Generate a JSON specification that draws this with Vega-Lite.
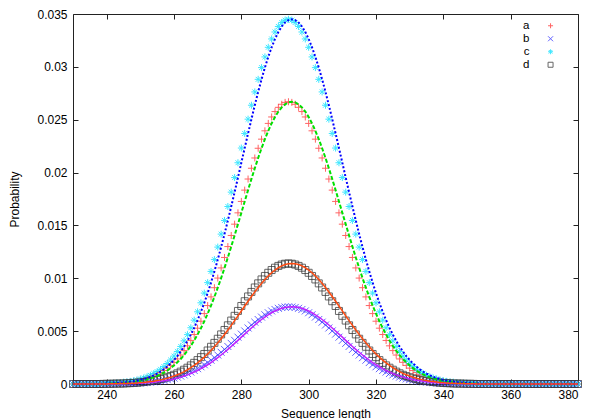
{
"$schema": "https://vega.github.io/schema/vega-lite/v6.json",
"width": 505, "height": 370,
"autosize": "none",
"padding": {"left": 73, "top": 14, "right": 20, "bottom": 35},
"config": {
  "font": "Liberation Sans",
  "view": {"stroke": null},
  "axis": {"domainColor": "#222", "tickColor": "#222", "tickSize": -5, "grid": false, "labelFont": "Liberation Sans", "labelFontSize": 12, "labelColor": "#000", "titleFont": "Liberation Sans", "titleFontSize": 12, "titleFontWeight": "normal", "titleColor": "#000"}
},
"datasets": {
"pts": [
{"x":230,"a":0,"b":0,"c":0,"d":0},{"x":231,"a":0,"b":0,"c":0,"d":0},{"x":232,"a":0,"b":0,"c":0,"d":0},{"x":233,"a":0,"b":0,"c":0,"d":0},{"x":234,"a":0,"b":0,"c":0,"d":0},{"x":235,"a":0,"b":0,"c":0,"d":0},{"x":236,"a":0,"b":0,"c":0,"d":0},{"x":237,"a":0,"b":0,"c":0,"d":0},{"x":238,"a":0,"b":0,"c":0,"d":0},
{"x":239,"a":0.00003,"b":0.00001,"c":0.00004,"d":0.00001},
{"x":240,"a":0.00004,"b":0.00001,"c":0.00005,"d":0.00002},
{"x":241,"a":0.00005,"b":0.00001,"c":0.00007,"d":0.00002},
{"x":242,"a":0.00007,"b":0.00002,"c":0.00009,"d":0.00003},
{"x":243,"a":0.00008,"b":0.00002,"c":0.00011,"d":0.00004},
{"x":244,"a":0.0001,"b":0.00003,"c":0.00013,"d":0.00004},
{"x":245,"a":0.00013,"b":0.00004,"c":0.00017,"d":0.00005},
{"x":246,"a":0.00016,"b":0.00004,"c":0.00021,"d":0.00007},
{"x":247,"a":0.0002,"b":0.00005,"c":0.00025,"d":0.00008},
{"x":248,"a":0.00024,"b":0.00007,"c":0.00031,"d":0.0001},
{"x":249,"a":0.0003,"b":0.00008,"c":0.00038,"d":0.00013},
{"x":250,"a":0.00036,"b":0.0001,"c":0.00047,"d":0.00015},
{"x":251,"a":0.00044,"b":0.00012,"c":0.00057,"d":0.00019},
{"x":252,"a":0.00053,"b":0.00014,"c":0.00068,"d":0.00023},
{"x":253,"a":0.00064,"b":0.00017,"c":0.00082,"d":0.00027},
{"x":254,"a":0.00076,"b":0.00021,"c":0.00099,"d":0.00033},
{"x":255,"a":0.00091,"b":0.00025,"c":0.00117,"d":0.00039},
{"x":256,"a":0.00108,"b":0.0003,"c":0.00139,"d":0.00046},
{"x":257,"a":0.00127,"b":0.00035,"c":0.00165,"d":0.00054},
{"x":258,"a":0.0015,"b":0.00041,"c":0.00194,"d":0.00064},
{"x":259,"a":0.00176,"b":0.00048,"c":0.00227,"d":0.00075},
{"x":260,"a":0.00205,"b":0.00056,"c":0.00264,"d":0.00087},
{"x":261,"a":0.00237,"b":0.00065,"c":0.00307,"d":0.00101},
{"x":262,"a":0.00274,"b":0.00075,"c":0.00355,"d":0.00117},
{"x":263,"a":0.00316,"b":0.00086,"c":0.00408,"d":0.00135},
{"x":264,"a":0.00361,"b":0.00099,"c":0.00467,"d":0.00154},
{"x":265,"a":0.00412,"b":0.00113,"c":0.00532,"d":0.00176},
{"x":266,"a":0.00468,"b":0.00128,"c":0.00604,"d":0.002},
{"x":267,"a":0.00528,"b":0.00145,"c":0.00683,"d":0.00226},
{"x":268,"a":0.00594,"b":0.00163,"c":0.00768,"d":0.00254},
{"x":269,"a":0.00666,"b":0.00182,"c":0.0086,"d":0.00284},
{"x":270,"a":0.00742,"b":0.00203,"c":0.00959,"d":0.00317},
{"x":271,"a":0.00824,"b":0.00225,"c":0.01065,"d":0.00352},
{"x":272,"a":0.00911,"b":0.00249,"c":0.01177,"d":0.00389},
{"x":273,"a":0.01002,"b":0.00274,"c":0.01295,"d":0.00428},
{"x":274,"a":0.01098,"b":0.003,"c":0.01418,"d":0.00469},
{"x":275,"a":0.01197,"b":0.00327,"c":0.01547,"d":0.00511},
{"x":276,"a":0.013,"b":0.00355,"c":0.01679,"d":0.00555},
{"x":277,"a":0.01405,"b":0.00384,"c":0.01815,"d":0.006},
{"x":278,"a":0.01512,"b":0.00413,"c":0.01953,"d":0.00645},
{"x":279,"a":0.01619,"b":0.00443,"c":0.02093,"d":0.00691},
{"x":280,"a":0.01727,"b":0.00472,"c":0.02232,"d":0.00738},
{"x":281,"a":0.01834,"b":0.00502,"c":0.0237,"d":0.00783},
{"x":282,"a":0.01939,"b":0.0053,"c":0.02505,"d":0.00828},
{"x":283,"a":0.02041,"b":0.00558,"c":0.02637,"d":0.00871},
{"x":284,"a":0.02138,"b":0.00585,"c":0.02763,"d":0.00913},
{"x":285,"a":0.0223,"b":0.0061,"c":0.02882,"d":0.00952},
{"x":286,"a":0.02316,"b":0.00633,"c":0.02993,"d":0.00989},
{"x":287,"a":0.02395,"b":0.00655,"c":0.03094,"d":0.01022},
{"x":288,"a":0.02465,"b":0.00674,"c":0.03185,"d":0.01052},
{"x":289,"a":0.02526,"b":0.00691,"c":0.03264,"d":0.01078},
{"x":290,"a":0.02577,"b":0.00705,"c":0.0333,"d":0.011},
{"x":291,"a":0.02617,"b":0.00716,"c":0.03382,"d":0.01117},
{"x":292,"a":0.02646,"b":0.00724,"c":0.0342,"d":0.0113},
{"x":293,"a":0.02664,"b":0.00728,"c":0.03442,"d":0.01138},
{"x":294,"a":0.0267,"b":0.0073,"c":0.0345,"d":0.0114},
{"x":295,"a":0.02664,"b":0.00728,"c":0.03442,"d":0.01138},
{"x":296,"a":0.02646,"b":0.00724,"c":0.0342,"d":0.0113},
{"x":297,"a":0.02617,"b":0.00716,"c":0.03382,"d":0.01117},
{"x":298,"a":0.02577,"b":0.00705,"c":0.0333,"d":0.011},
{"x":299,"a":0.02526,"b":0.00691,"c":0.03264,"d":0.01078},
{"x":300,"a":0.02465,"b":0.00674,"c":0.03185,"d":0.01052},
{"x":301,"a":0.02395,"b":0.00655,"c":0.03094,"d":0.01022},
{"x":302,"a":0.02316,"b":0.00633,"c":0.02993,"d":0.00989},
{"x":303,"a":0.0223,"b":0.0061,"c":0.02882,"d":0.00952},
{"x":304,"a":0.02138,"b":0.00585,"c":0.02763,"d":0.00913},
{"x":305,"a":0.02041,"b":0.00558,"c":0.02637,"d":0.00871},
{"x":306,"a":0.01939,"b":0.0053,"c":0.02505,"d":0.00828},
{"x":307,"a":0.01834,"b":0.00502,"c":0.0237,"d":0.00783},
{"x":308,"a":0.01727,"b":0.00472,"c":0.02232,"d":0.00738},
{"x":309,"a":0.01619,"b":0.00443,"c":0.02093,"d":0.00691},
{"x":310,"a":0.01512,"b":0.00413,"c":0.01953,"d":0.00645},
{"x":311,"a":0.01405,"b":0.00384,"c":0.01815,"d":0.006},
{"x":312,"a":0.013,"b":0.00355,"c":0.01679,"d":0.00555},
{"x":313,"a":0.01197,"b":0.00327,"c":0.01547,"d":0.00511},
{"x":314,"a":0.01098,"b":0.003,"c":0.01418,"d":0.00469},
{"x":315,"a":0.01002,"b":0.00274,"c":0.01295,"d":0.00428},
{"x":316,"a":0.00911,"b":0.00249,"c":0.01177,"d":0.00389},
{"x":317,"a":0.00824,"b":0.00225,"c":0.01065,"d":0.00352},
{"x":318,"a":0.00742,"b":0.00203,"c":0.00959,"d":0.00317},
{"x":319,"a":0.00666,"b":0.00182,"c":0.0086,"d":0.00284},
{"x":320,"a":0.00594,"b":0.00163,"c":0.00768,"d":0.00254},
{"x":321,"a":0.00528,"b":0.00145,"c":0.00683,"d":0.00226},
{"x":322,"a":0.00468,"b":0.00128,"c":0.00604,"d":0.002},
{"x":323,"a":0.00412,"b":0.00113,"c":0.00532,"d":0.00176},
{"x":324,"a":0.00361,"b":0.00099,"c":0.00467,"d":0.00154},
{"x":325,"a":0.00316,"b":0.00086,"c":0.00408,"d":0.00135},
{"x":326,"a":0.00274,"b":0.00075,"c":0.00355,"d":0.00117},
{"x":327,"a":0.00237,"b":0.00065,"c":0.00307,"d":0.00101},
{"x":328,"a":0.00205,"b":0.00056,"c":0.00264,"d":0.00087},
{"x":329,"a":0.00176,"b":0.00048,"c":0.00227,"d":0.00075},
{"x":330,"a":0.0015,"b":0.00041,"c":0.00194,"d":0.00064},
{"x":331,"a":0.00127,"b":0.00035,"c":0.00165,"d":0.00054},
{"x":332,"a":0.00108,"b":0.0003,"c":0.00139,"d":0.00046},
{"x":333,"a":0.00091,"b":0.00025,"c":0.00117,"d":0.00039},
{"x":334,"a":0.00076,"b":0.00021,"c":0.00099,"d":0.00033},
{"x":335,"a":0.00064,"b":0.00017,"c":0.00082,"d":0.00027},
{"x":336,"a":0.00053,"b":0.00014,"c":0.00068,"d":0.00023},
{"x":337,"a":0.00044,"b":0.00012,"c":0.00057,"d":0.00019},
{"x":338,"a":0.00036,"b":0.0001,"c":0.00047,"d":0.00015},
{"x":339,"a":0.0003,"b":0.00008,"c":0.00038,"d":0.00013},
{"x":340,"a":0.00024,"b":0.00007,"c":0.00031,"d":0.0001},
{"x":341,"a":0.0002,"b":0.00005,"c":0.00025,"d":0.00008},
{"x":342,"a":0.00016,"b":0.00004,"c":0.00021,"d":0.00007},
{"x":343,"a":0.00013,"b":0.00004,"c":0.00017,"d":0.00005},
{"x":344,"a":0.0001,"b":0.00003,"c":0.00013,"d":0.00004},
{"x":345,"a":0.00008,"b":0.00002,"c":0.00011,"d":0.00004},
{"x":346,"a":0.00007,"b":0.00002,"c":0.00009,"d":0.00003},
{"x":347,"a":0.00005,"b":0.00001,"c":0.00007,"d":0.00002},
{"x":348,"a":0.00004,"b":0.00001,"c":0.00005,"d":0.00002},
{"x":349,"a":0.00003,"b":0.00001,"c":0.00004,"d":0.00001},
{"x":350,"a":0,"b":0,"c":0,"d":0},{"x":351,"a":0,"b":0,"c":0,"d":0},{"x":352,"a":0,"b":0,"c":0,"d":0},{"x":353,"a":0,"b":0,"c":0,"d":0},{"x":354,"a":0,"b":0,"c":0,"d":0},{"x":355,"a":0,"b":0,"c":0,"d":0},{"x":356,"a":0,"b":0,"c":0,"d":0},{"x":357,"a":0,"b":0,"c":0,"d":0},{"x":358,"a":0,"b":0,"c":0,"d":0},{"x":359,"a":0,"b":0,"c":0,"d":0},{"x":360,"a":0,"b":0,"c":0,"d":0},{"x":361,"a":0,"b":0,"c":0,"d":0},{"x":362,"a":0,"b":0,"c":0,"d":0},{"x":363,"a":0,"b":0,"c":0,"d":0},{"x":364,"a":0,"b":0,"c":0,"d":0},{"x":365,"a":0,"b":0,"c":0,"d":0},{"x":366,"a":0,"b":0,"c":0,"d":0},{"x":367,"a":0,"b":0,"c":0,"d":0},{"x":368,"a":0,"b":0,"c":0,"d":0},{"x":369,"a":0,"b":0,"c":0,"d":0},{"x":370,"a":0,"b":0,"c":0,"d":0},{"x":371,"a":0,"b":0,"c":0,"d":0},{"x":372,"a":0,"b":0,"c":0,"d":0},{"x":373,"a":0,"b":0,"c":0,"d":0},{"x":374,"a":0,"b":0,"c":0,"d":0},{"x":375,"a":0,"b":0,"c":0,"d":0},{"x":376,"a":0,"b":0,"c":0,"d":0},{"x":377,"a":0,"b":0,"c":0,"d":0},{"x":378,"a":0,"b":0,"c":0,"d":0},{"x":379,"a":0,"b":0,"c":0,"d":0},{"x":380,"a":0,"b":0,"c":0,"d":0}
],
"fit": [
{"x":230,"a":0,"b":0,"c":0,"d":0},
{"x":239,"a":0,"b":0,"c":0,"d":0},
{"x":240,"a":0.00003,"b":0.00001,"c":0.00004,"d":0.00001},
{"x":241,"a":0.00004,"b":0.00001,"c":0.00005,"d":0.00002},
{"x":242,"a":0.00005,"b":0.00001,"c":0.00007,"d":0.00002},
{"x":243,"a":0.00007,"b":0.00002,"c":0.00009,"d":0.00003},
{"x":244,"a":0.00008,"b":0.00002,"c":0.00011,"d":0.00004},
{"x":245,"a":0.0001,"b":0.00003,"c":0.00013,"d":0.00004},
{"x":246,"a":0.00013,"b":0.00004,"c":0.00017,"d":0.00005},
{"x":247,"a":0.00016,"b":0.00004,"c":0.00021,"d":0.00007},
{"x":248,"a":0.0002,"b":0.00005,"c":0.00025,"d":0.00008},
{"x":249,"a":0.00024,"b":0.00007,"c":0.00031,"d":0.0001},
{"x":250,"a":0.0003,"b":0.00008,"c":0.00038,"d":0.00013},
{"x":251,"a":0.00036,"b":0.0001,"c":0.00047,"d":0.00015},
{"x":252,"a":0.00044,"b":0.00012,"c":0.00057,"d":0.00019},
{"x":253,"a":0.00053,"b":0.00014,"c":0.00068,"d":0.00023},
{"x":254,"a":0.00064,"b":0.00017,"c":0.00082,"d":0.00027},
{"x":255,"a":0.00076,"b":0.00021,"c":0.00099,"d":0.00033},
{"x":256,"a":0.00091,"b":0.00025,"c":0.00117,"d":0.00039},
{"x":257,"a":0.00108,"b":0.0003,"c":0.00139,"d":0.00046},
{"x":258,"a":0.00127,"b":0.00035,"c":0.00165,"d":0.00054},
{"x":259,"a":0.0015,"b":0.00041,"c":0.00194,"d":0.00064},
{"x":260,"a":0.00176,"b":0.00048,"c":0.00227,"d":0.00075},
{"x":261,"a":0.00205,"b":0.00056,"c":0.00264,"d":0.00087},
{"x":262,"a":0.00237,"b":0.00065,"c":0.00307,"d":0.00101},
{"x":263,"a":0.00274,"b":0.00075,"c":0.00355,"d":0.00117},
{"x":264,"a":0.00316,"b":0.00086,"c":0.00408,"d":0.00135},
{"x":265,"a":0.00361,"b":0.00099,"c":0.00467,"d":0.00154},
{"x":266,"a":0.00412,"b":0.00113,"c":0.00532,"d":0.00176},
{"x":267,"a":0.00468,"b":0.00128,"c":0.00604,"d":0.002},
{"x":268,"a":0.00528,"b":0.00145,"c":0.00683,"d":0.00226},
{"x":269,"a":0.00594,"b":0.00163,"c":0.00768,"d":0.00254},
{"x":270,"a":0.00666,"b":0.00182,"c":0.0086,"d":0.00284},
{"x":271,"a":0.00742,"b":0.00203,"c":0.00959,"d":0.00317},
{"x":272,"a":0.00824,"b":0.00225,"c":0.01065,"d":0.00352},
{"x":273,"a":0.00911,"b":0.00249,"c":0.01177,"d":0.00389},
{"x":274,"a":0.01002,"b":0.00274,"c":0.01295,"d":0.00428},
{"x":275,"a":0.01098,"b":0.003,"c":0.01418,"d":0.00469},
{"x":276,"a":0.01197,"b":0.00327,"c":0.01547,"d":0.00511},
{"x":277,"a":0.013,"b":0.00355,"c":0.01679,"d":0.00555},
{"x":278,"a":0.01405,"b":0.00384,"c":0.01815,"d":0.006},
{"x":279,"a":0.01512,"b":0.00413,"c":0.01953,"d":0.00645},
{"x":280,"a":0.01619,"b":0.00443,"c":0.02093,"d":0.00691},
{"x":281,"a":0.01727,"b":0.00472,"c":0.02232,"d":0.00738},
{"x":282,"a":0.01834,"b":0.00502,"c":0.0237,"d":0.00783},
{"x":283,"a":0.01939,"b":0.0053,"c":0.02505,"d":0.00828},
{"x":284,"a":0.02041,"b":0.00558,"c":0.02637,"d":0.00871},
{"x":285,"a":0.02138,"b":0.00585,"c":0.02763,"d":0.00913},
{"x":286,"a":0.0223,"b":0.0061,"c":0.02882,"d":0.00952},
{"x":287,"a":0.02316,"b":0.00633,"c":0.02993,"d":0.00989},
{"x":288,"a":0.02395,"b":0.00655,"c":0.03094,"d":0.01022},
{"x":289,"a":0.02465,"b":0.00674,"c":0.03185,"d":0.01052},
{"x":290,"a":0.02526,"b":0.00691,"c":0.03264,"d":0.01078},
{"x":291,"a":0.02577,"b":0.00705,"c":0.0333,"d":0.011},
{"x":292,"a":0.02617,"b":0.00716,"c":0.03382,"d":0.01117},
{"x":293,"a":0.02646,"b":0.00724,"c":0.0342,"d":0.0113},
{"x":294,"a":0.02664,"b":0.00728,"c":0.03442,"d":0.01138},
{"x":295,"a":0.0267,"b":0.0073,"c":0.0345,"d":0.0114},
{"x":296,"a":0.02664,"b":0.00728,"c":0.03442,"d":0.01138},
{"x":297,"a":0.02646,"b":0.00724,"c":0.0342,"d":0.0113},
{"x":298,"a":0.02617,"b":0.00716,"c":0.03382,"d":0.01117},
{"x":299,"a":0.02577,"b":0.00705,"c":0.0333,"d":0.011},
{"x":300,"a":0.02526,"b":0.00691,"c":0.03264,"d":0.01078},
{"x":301,"a":0.02465,"b":0.00674,"c":0.03185,"d":0.01052},
{"x":302,"a":0.02395,"b":0.00655,"c":0.03094,"d":0.01022},
{"x":303,"a":0.02316,"b":0.00633,"c":0.02993,"d":0.00989},
{"x":304,"a":0.0223,"b":0.0061,"c":0.02882,"d":0.00952},
{"x":305,"a":0.02138,"b":0.00585,"c":0.02763,"d":0.00913},
{"x":306,"a":0.02041,"b":0.00558,"c":0.02637,"d":0.00871},
{"x":307,"a":0.01939,"b":0.0053,"c":0.02505,"d":0.00828},
{"x":308,"a":0.01834,"b":0.00502,"c":0.0237,"d":0.00783},
{"x":309,"a":0.01727,"b":0.00472,"c":0.02232,"d":0.00738},
{"x":310,"a":0.01619,"b":0.00443,"c":0.02093,"d":0.00691},
{"x":311,"a":0.01512,"b":0.00413,"c":0.01953,"d":0.00645},
{"x":312,"a":0.01405,"b":0.00384,"c":0.01815,"d":0.006},
{"x":313,"a":0.013,"b":0.00355,"c":0.01679,"d":0.00555},
{"x":314,"a":0.01197,"b":0.00327,"c":0.01547,"d":0.00511},
{"x":315,"a":0.01098,"b":0.003,"c":0.01418,"d":0.00469},
{"x":316,"a":0.01002,"b":0.00274,"c":0.01295,"d":0.00428},
{"x":317,"a":0.00911,"b":0.00249,"c":0.01177,"d":0.00389},
{"x":318,"a":0.00824,"b":0.00225,"c":0.01065,"d":0.00352},
{"x":319,"a":0.00742,"b":0.00203,"c":0.00959,"d":0.00317},
{"x":320,"a":0.00666,"b":0.00182,"c":0.0086,"d":0.00284},
{"x":321,"a":0.00594,"b":0.00163,"c":0.00768,"d":0.00254},
{"x":322,"a":0.00528,"b":0.00145,"c":0.00683,"d":0.00226},
{"x":323,"a":0.00468,"b":0.00128,"c":0.00604,"d":0.002},
{"x":324,"a":0.00412,"b":0.00113,"c":0.00532,"d":0.00176},
{"x":325,"a":0.00361,"b":0.00099,"c":0.00467,"d":0.00154},
{"x":326,"a":0.00316,"b":0.00086,"c":0.00408,"d":0.00135},
{"x":327,"a":0.00274,"b":0.00075,"c":0.00355,"d":0.00117},
{"x":328,"a":0.00237,"b":0.00065,"c":0.00307,"d":0.00101},
{"x":329,"a":0.00205,"b":0.00056,"c":0.00264,"d":0.00087},
{"x":330,"a":0.00176,"b":0.00048,"c":0.00227,"d":0.00075},
{"x":331,"a":0.0015,"b":0.00041,"c":0.00194,"d":0.00064},
{"x":332,"a":0.00127,"b":0.00035,"c":0.00165,"d":0.00054},
{"x":333,"a":0.00108,"b":0.0003,"c":0.00139,"d":0.00046},
{"x":334,"a":0.00091,"b":0.00025,"c":0.00117,"d":0.00039},
{"x":335,"a":0.00076,"b":0.00021,"c":0.00099,"d":0.00033},
{"x":336,"a":0.00064,"b":0.00017,"c":0.00082,"d":0.00027},
{"x":337,"a":0.00053,"b":0.00014,"c":0.00068,"d":0.00023},
{"x":338,"a":0.00044,"b":0.00012,"c":0.00057,"d":0.00019},
{"x":339,"a":0.00036,"b":0.0001,"c":0.00047,"d":0.00015},
{"x":340,"a":0.0003,"b":0.00008,"c":0.00038,"d":0.00013},
{"x":341,"a":0.00024,"b":0.00007,"c":0.00031,"d":0.0001},
{"x":342,"a":0.0002,"b":0.00005,"c":0.00025,"d":0.00008},
{"x":343,"a":0.00016,"b":0.00004,"c":0.00021,"d":0.00007},
{"x":344,"a":0.00013,"b":0.00004,"c":0.00017,"d":0.00005},
{"x":345,"a":0.0001,"b":0.00003,"c":0.00013,"d":0.00004},
{"x":346,"a":0.00008,"b":0.00002,"c":0.00011,"d":0.00004},
{"x":347,"a":0.00007,"b":0.00002,"c":0.00009,"d":0.00003},
{"x":348,"a":0.00005,"b":0.00001,"c":0.00007,"d":0.00002},
{"x":349,"a":0.00004,"b":0.00001,"c":0.00005,"d":0.00002},
{"x":350,"a":0.00003,"b":0.00001,"c":0.00004,"d":0.00001},
{"x":351,"a":0,"b":0,"c":0,"d":0},
{"x":380,"a":0,"b":0,"c":0,"d":0}
]
},
"layer": [
{
  "data": {"name": "pts"},
  "transform": [{"fold": ["a", "b", "c", "d"], "as": ["series", "p"]}],
  "mark": {"type": "point", "filled": false, "strokeWidth": 1, "size": 49, "opacity": 0.75},
  "encoding": {
    "x": {"field": "x", "type": "quantitative", "scale": {"domain": [230, 380], "nice": false, "zero": false},
          "axis": {"orient": "bottom", "values": [240, 260, 280, 300, 320, 340, 360, 380], "labelPadding": 10, "title": "Sequence length", "titleX": 252.5, "titleY": 29, "titleAlign": "center", "titleBaseline": "middle"}},
    "y": {"field": "p", "type": "quantitative", "scale": {"domain": [0, 0.035], "nice": false},
          "axis": {"orient": "left", "values": [0, 0.005, 0.01, 0.015, 0.02, 0.025, 0.03, 0.035], "format": "~g", "labelPadding": 11, "title": "Probability", "titleX": -59, "titleY": 185, "titleAngle": 270, "titleAlign": "center", "titleBaseline": "middle"}},
    "color": {"field": "series", "type": "nominal", "scale": {"domain": ["a", "b", "c", "d"], "range": ["#ff3030", "#3030ff", "#00e0ff", "#333333"]},
              "legend": {"orient": "none", "legendX": 471.8, "legendY": 6, "title": null, "labelAlign": "right", "labelOffset": -26.8, "labelFontSize": 11.5, "labelFont": "Liberation Sans", "padding": 0, "rowPadding": 0, "symbolStrokeWidth": 1, "symbolSize": 25}},
    "shape": {"field": "series", "type": "nominal", "scale": {"domain": ["a", "b", "c", "d"], "range": ["M-1,0L1,0M0,-1L0,1", "M-1,-1L1,1M-1,1L1,-1", "M-1,0L1,0M0,-1L0,1M-0.7,-0.7L0.7,0.7M-0.7,0.7L0.7,-0.7", "square"]},
              "legend": {"orient": "none", "legendX": 471.8, "legendY": 6, "title": null, "labelAlign": "right", "labelOffset": -26.8, "labelFontSize": 11.5, "labelFont": "Liberation Sans", "padding": 0, "rowPadding": 0, "symbolStrokeWidth": 1, "symbolSize": 25}}
  }
},
{
  "data": {"name": "fit"},
  "mark": {"type": "line", "color": "#00e000", "strokeWidth": 2, "strokeDash": [4, 2]},
  "encoding": {
    "x": {"field": "x", "type": "quantitative", "scale": {"domain": [230, 380], "nice": false, "zero": false}, "axis": {"orient": "top", "values": [240, 260, 280, 300, 320, 340, 360, 380], "labels": false, "title": null}},
    "y": {"field": "a", "type": "quantitative", "scale": {"domain": [0, 0.035], "nice": false}, "axis": {"orient": "right", "values": [0, 0.005, 0.01, 0.015, 0.02, 0.025, 0.03, 0.035], "labels": false, "title": null}}
  }
},
{
  "data": {"name": "fit"},
  "mark": {"type": "line", "color": "#c020ff", "strokeWidth": 1.5},
  "encoding": {
    "x": {"field": "x", "type": "quantitative", "scale": {"domain": [230, 380], "nice": false, "zero": false}, "axis": null},
    "y": {"field": "b", "type": "quantitative", "scale": {"domain": [0, 0.035], "nice": false}, "axis": null}
  }
},
{
  "data": {"name": "fit"},
  "mark": {"type": "line", "color": "#0000ff", "strokeWidth": 2, "strokeDash": [2, 2]},
  "encoding": {
    "x": {"field": "x", "type": "quantitative", "scale": {"domain": [230, 380], "nice": false, "zero": false}, "axis": null},
    "y": {"field": "c", "type": "quantitative", "scale": {"domain": [0, 0.035], "nice": false}, "axis": null}
  }
},
{
  "data": {"name": "fit"},
  "mark": {"type": "line", "color": "#ff4a10", "strokeWidth": 1.5},
  "encoding": {
    "x": {"field": "x", "type": "quantitative", "scale": {"domain": [230, 380], "nice": false, "zero": false}, "axis": null},
    "y": {"field": "d", "type": "quantitative", "scale": {"domain": [0, 0.035], "nice": false}, "axis": null}
  }
}
],
"resolve": {"axis": {"x": "independent", "y": "independent"}}
}
